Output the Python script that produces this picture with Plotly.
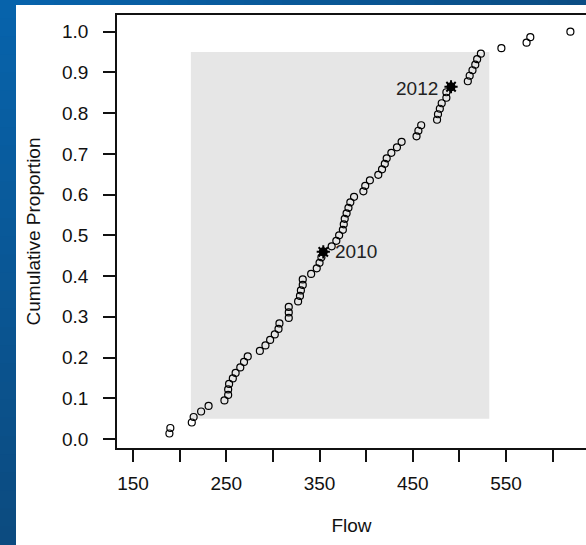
import plotly.graph_objects as go

# ---------------- data ----------------
flow = [189, 190, 213, 215, 223, 231, 248, 252, 252, 253, 257, 260, 265, 269, 273,
        286, 292, 297, 302, 306, 307, 317, 317, 317, 327, 329, 330, 332, 332, 341,
        347, 350, 352, 354,
        363, 368, 371, 375, 376, 377, 379, 381, 383, 387, 397, 399, 404, 413, 417,
        420, 422, 427, 433, 438, 454, 456, 459, 476, 477, 479, 481, 486, 486, 491,
        509, 511, 514, 517, 519, 523, 545, 572, 576, 619]
highlight_years = ["2010", "2012"]
highlight_flow = [354, 491]
band_flow = [212, 532]
band_prop = [0.05, 0.95]
x_tick_vals = [150, 200, 250, 300, 350, 400, 450, 500, 550, 600]
x_tick_text = ["150", "", "250", "", "350", "", "450", "", "550", ""]
y_tick_vals = [0.0, 0.1, 0.2, 0.3, 0.4, 0.5, 0.6, 0.7, 0.8, 0.9, 1.0]
y_tick_text = ["0.0", "0.1", "0.2", "0.3", "0.4", "0.5", "0.6", "0.7", "0.8", "0.9", "1.0"]

flow_sorted = sorted(flow)
n = len(flow_sorted)
prop = [(i + 1) / n for i in range(n)]
hl_prop = [prop[len(flow_sorted) - 1 - flow_sorted[::-1].index(v)] for v in highlight_flow]

# ---------------- layout geometry ----------------
W, H = 586, 545
L, R, T, B = 117, 0, 15, 97
PW, PH = W - L - R, H - T - B


def px(x):
    return (x - L) / PW


def py(y):
    return (H - B - y) / PH


def lerp(c1, c2, t):
    a = [int(c1[i:i + 2], 16) for i in (1, 3, 5)]
    b = [int(c2[i:i + 2], 16) for i in (1, 3, 5)]
    return "#%02x%02x%02x" % tuple(round(a[k] + (b[k] - a[k]) * t) for k in range(3))


FONT = "Arial, Liberation Sans, sans-serif"
fig = go.Figure()

fig.add_trace(go.Scatter(
    x=flow_sorted, y=prop, mode="markers",
    marker=dict(symbol="circle-open", size=7, color="black", line=dict(width=1.2, color="black")),
    showlegend=False, hoverinfo="x+y"))

fig.add_trace(go.Scatter(
    x=highlight_flow, y=hl_prop, mode="markers",
    marker=dict(symbol="circle", size=9, color="black"),
    showlegend=False))
fig.add_trace(go.Scatter(
    x=highlight_flow, y=hl_prop, mode="markers",
    marker=dict(symbol="asterisk-open", size=11, color="black", line=dict(width=2, color="black")),
    showlegend=False))

shapes = []
# blue gradient background strips
nstrip = 30
for k in range(nstrip):
    y0 = k * H / nstrip
    y1 = (k + 1) * H / nstrip + 1
    shapes.append(dict(type="rect", xref="paper", yref="paper", layer="below",
                       x0=px(0), x1=px(16), y0=py(y1), y1=py(y0),
                       fillcolor=lerp("#0763ab", "#0c4b80", k / (nstrip - 1)), line=dict(width=0)))
for k in range(nstrip):
    x0 = 16 + k * (W - 16) / nstrip
    x1 = 16 + (k + 1) * (W - 16) / nstrip + 1
    shapes.append(dict(type="rect", xref="paper", yref="paper", layer="below",
                       x0=px(x0), x1=px(x1), y0=py(5), y1=py(0),
                       fillcolor=lerp("#0763ab", "#0b4d84", k / (nstrip - 1)), line=dict(width=0)))
# gray band
shapes.append(dict(type="rect", xref="x", yref="y", layer="below",
                   x0=band_flow[0], x1=band_flow[1], y0=band_prop[0], y1=band_prop[1],
                   fillcolor="#e6e6e6", line=dict(width=0)))

annotations = [
    dict(x=highlight_flow[0], y=hl_prop[0], text=highlight_years[0], showarrow=False,
         xanchor="left", yanchor="middle", xshift=10, font=dict(size=19, color="#222", family=FONT)),
    dict(x=highlight_flow[1], y=hl_prop[1], text=highlight_years[1], showarrow=False,
         xanchor="right", yanchor="middle", xshift=-11, yshift=-2, font=dict(size=19, color="#222", family=FONT)),
]

fig.update_layout(
    width=W, height=H,
    margin=dict(l=L, r=R, t=T, b=B, pad=0),
    paper_bgcolor="white", plot_bgcolor="white",
    font=dict(family=FONT, size=19, color="#111"),
    shapes=shapes, annotations=annotations,
    showlegend=False,
)
fig.update_xaxes(
    range=[132.8, 150 + (W - 133.3) / 0.932],
    tickmode="array", tickvals=x_tick_vals, ticktext=x_tick_text,
    ticks="outside", ticklen=12, tickwidth=1.5, tickcolor="#111",
    showline=True, linewidth=1.5, linecolor="#111", mirror=True,
    showgrid=False, zeroline=False, ticklabelstandoff=5,
    title=dict(text="Flow", font=dict(size=19, family=FONT, color="#111"), standoff=26),
)
fig.update_yaxes(
    range=[-0.0221, 1.041],
    tickmode="array", tickvals=y_tick_vals, ticktext=y_tick_text,
    ticks="outside", ticklen=12, tickwidth=1.5, tickcolor="#111",
    showline=True, linewidth=1.5, linecolor="#111",
    showgrid=False, zeroline=False, ticklabelstandoff=11,
    title=dict(text="Cumulative Proportion", font=dict(size=19, family=FONT, color="#111"), standoff=16),
)

fig.write_html("out.html", config={"displayModeBar": False},
               post_script="document.body.style.margin='0px';document.body.style.overflow='hidden';")
